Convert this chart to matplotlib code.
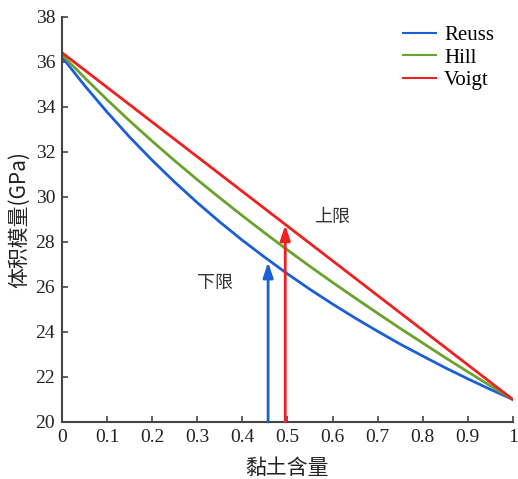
import matplotlib
matplotlib.use("Agg")
import matplotlib.pyplot as plt

clay = [0.0, 0.05, 0.1, 0.15, 0.2, 0.25, 0.3, 0.35, 0.4, 0.45, 0.5,
        0.55, 0.6, 0.65, 0.7, 0.75, 0.8, 0.85, 0.9, 0.95, 1.0]
reuss = [36.2, 34.94, 33.76, 32.65, 31.62, 30.65, 29.74, 28.88, 28.07, 27.31, 26.58,
         25.89, 25.24, 24.62, 24.03, 23.46, 22.93, 22.41, 21.92, 21.45, 21.0]
hill = [36.3, 35.29, 34.31, 33.37, 32.47, 31.60, 30.76, 29.95, 29.16, 28.39, 27.64,
        26.91, 26.20, 25.51, 24.83, 24.16, 23.51, 22.86, 22.23, 21.61, 21.0]
voigt = [36.4, 35.63, 34.86, 34.09, 33.32, 32.55, 31.78, 31.01, 30.24, 29.47, 28.7,
         27.93, 27.16, 26.39, 25.62, 24.85, 24.08, 23.31, 22.54, 21.77, 21.0]
series_names = ["Reuss", "Hill", "Voigt"]
colors = ["#1a5fd6", "#6aa22e", "#ee2020"]

lower_x, lower_y = 0.457, 27.1
upper_x, upper_y = 0.495, 28.75

xticks = [0, 0.1, 0.2, 0.3, 0.4, 0.5, 0.6, 0.7, 0.8, 0.9, 1]
xticklabels = ["0", "0.1", "0.2", "0.3", "0.4", "0.5", "0.6", "0.7", "0.8", "0.9", "1"]
yticks = [20, 22, 24, 26, 28, 30, 32, 34, 36, 38]

serif = ["Liberation Serif", "DejaVu Serif"]
cjk = ["Noto Sans CJK SC", "DejaVu Sans"]

fig = plt.figure(figsize=(5.18, 4.79), dpi=100)
ax = fig.add_axes([0.12, 0.119, 0.870, 0.846])

for ys, name, c in zip([reuss, hill, voigt], series_names, colors):
    ax.plot(clay, ys, color=c, lw=2, label=name)

ax.annotate("", xy=(lower_x, lower_y), xytext=(lower_x, 20),
            arrowprops=dict(arrowstyle="-|>,head_length=0.9,head_width=0.3",
                            color=colors[0], lw=2, shrinkA=0, shrinkB=0))
ax.annotate("", xy=(upper_x, upper_y), xytext=(upper_x, 20),
            arrowprops=dict(arrowstyle="-|>,head_length=0.9,head_width=0.3",
                            color=colors[2], lw=2, shrinkA=0, shrinkB=0))
ax.text(0.34, 26.2, "下限", family=cjk, fontsize=13, color="#333333",
        ha="center", va="center")
ax.text(0.598, 29.1, "上限", family=cjk, fontsize=13, color="#333333",
        ha="center", va="center")

ax.set_xlim(0, 1)
ax.set_ylim(20, 38)
ax.set_xticks(xticks)
ax.set_xticklabels(xticklabels)
ax.set_yticks(yticks)
for lab in ax.get_xticklabels() + ax.get_yticklabels():
    lab.set_family(serif)
    lab.set_fontsize(14)
    lab.set_color("#222222")
ax.tick_params(direction="in", length=4, width=1.2, color="#444444", pad=5)
for s in ["top", "right"]:
    ax.spines[s].set_visible(False)
for s in ["left", "bottom"]:
    ax.spines[s].set_linewidth(1.5)
    ax.spines[s].set_color("#444444")

ax.set_xlabel("黏土含量", family=cjk, fontsize=15, labelpad=8, color="#222222")
ax.set_ylabel("体积模量(GPa)", family=cjk + serif, fontsize=15, labelpad=4, color="#222222")

leg = ax.legend(loc="upper right", bbox_to_anchor=(1.0, 1.025), frameon=False,
                prop={"family": serif, "size": 15}, handlelength=1.55,
                handletextpad=0.4, labelspacing=0.15)
for h in leg.get_lines():
    h.set_linewidth(1.5)

fig.savefig("out.png", dpi=100)
